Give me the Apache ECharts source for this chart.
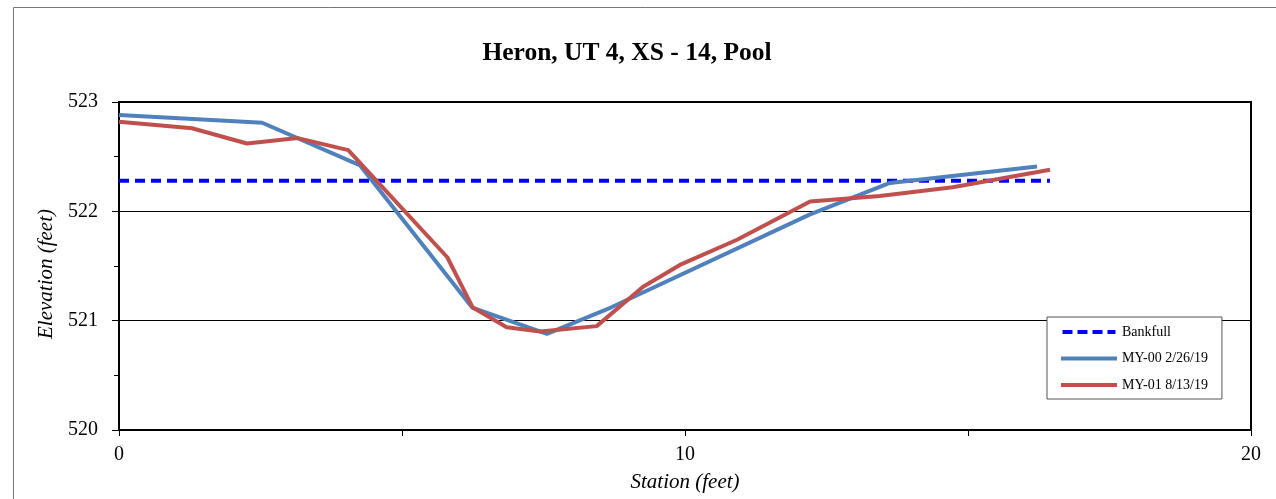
<!DOCTYPE html>
<html>
<head>
<meta charset="utf-8">
<script src="https://cdn.jsdelivr.net/npm/echarts@6/dist/echarts.min.js"></script>
<style>html,body{margin:0;padding:0;background:#fff;}#c{width:1276px;height:499px;}</style>
</head>
<body>
<div id="c"></div>
<script>
const titleText = 'Heron, UT 4, XS - 14, Pool';
const xTicks = [0, 10, 20];
const yTicks = [520, 521, 522, 523];
const bankfullStation = [0, 16.45];
const bankfullElev = [522.28, 522.28];
const my00Station = [0, 2.53, 4.26, 6.24, 7.56, 8.69, 12.2, 13.62, 16.22];
const my00Elev = [522.88, 522.81, 522.42, 521.12, 520.88, 521.12, 521.97, 522.26, 522.41];
const my01Station = [0, 1.29, 2.26, 3.16, 4.05, 5.80, 6.25, 6.85, 7.44, 8.44, 9.26, 9.91, 10.92, 12.21, 13.44, 14.73, 16.45];
const my01Elev = [522.82, 522.76, 522.62, 522.67, 522.56, 521.58, 521.12, 520.94, 520.90, 520.95, 521.31, 521.51, 521.74, 522.09, 522.14, 522.22, 522.38];

const zip = (a, b) => a.map((v, i) => [v, b[i]]);
const serif = '"Liberation Serif", "Times New Roman", serif';
const solidIcon = 'path://M0,0H56V4H0Z';
const dashIcon = 'path://M0,0H10V4H0ZM15,0H25V4H15ZM30,0H40V4H30ZM45,0H53V4H45Z';

const chart = echarts.init(document.getElementById('c'), null, {renderer: 'canvas'});
chart.setOption({
  animation: false,
  backgroundColor: '#fff',
  textStyle: {fontFamily: serif, color: '#000'},
  title: {
    text: titleText, left: 622, top: 35, textAlign: 'center',
    textStyle: {fontFamily: serif, fontSize: 25.5, fontWeight: 'bold', color: '#000'}
  },
  graphic: [{
    type: 'rect', silent: true, z: -1,
    shape: {x: 13.5, y: 7.5, width: 1400, height: 700},
    style: {fill: 'none', stroke: '#777', lineWidth: 1}
  }],
  grid: {left: 119, top: 102, right: 25, bottom: 69, show: true, borderColor: '#000', borderWidth: 2, backgroundColor: 'transparent'},
  legend: {
    orient: 'vertical', left: 1047, top: 317,
    padding: [8, 14, 7, 14], itemGap: 12.5, itemWidth: 56, itemHeight: 4,
    borderColor: '#555', borderWidth: 1, backgroundColor: '#fff',
    textStyle: {fontFamily: serif, fontSize: 14, color: '#000'},
    data: [
      {name: 'Bankfull', icon: dashIcon},
      {name: 'MY-00 2/26/19', icon: solidIcon},
      {name: 'MY-01 8/13/19', icon: solidIcon}
    ]
  },
  xAxis: {
    type: 'value', min: xTicks[0], max: xTicks[xTicks.length - 1], interval: 10,
    name: 'Station (feet)', nameLocation: 'middle', nameGap: 42,
    nameTextStyle: {fontFamily: serif, fontSize: 21, fontStyle: 'italic', color: '#000'},
    axisLine: {lineStyle: {color: '#000', width: 1.5}},
    axisTick: {show: true, inside: false, length: 6, lineStyle: {color: '#000'}},
    minorTick: {show: true, splitNumber: 2, length: 6, lineStyle: {color: '#000'}},
    splitLine: {show: false},
    axisLabel: {fontFamily: serif, fontSize: 20, color: '#000', margin: 15}
  },
  yAxis: {
    type: 'value', min: yTicks[0], max: yTicks[yTicks.length - 1], interval: 1,
    name: 'Elevation (feet)', nameLocation: 'middle', nameGap: 62,
    nameTextStyle: {fontFamily: serif, fontSize: 21, fontStyle: 'italic', color: '#000', padding: [0, 16, 0, 0]},
    axisLine: {show: true, lineStyle: {color: '#000', width: 1.5}},
    axisTick: {show: true, inside: false, length: 7, lineStyle: {color: '#000'}},
    minorTick: {show: true, splitNumber: 2, length: 5, lineStyle: {color: '#000'}},
    splitLine: {show: true, lineStyle: {color: '#000', width: 1}},
    axisLabel: {fontFamily: serif, fontSize: 20, color: '#000', margin: 21}
  },
  series: [
    {
      name: 'Bankfull', type: 'line', symbol: 'none', data: zip(bankfullStation, bankfullElev),
      lineStyle: {color: '#0000FF', width: 4, type: [10, 6]}, itemStyle: {color: '#0000FF'}, z: 3
    },
    {
      name: 'MY-00 2/26/19', type: 'line', symbol: 'none', data: zip(my00Station, my00Elev),
      lineStyle: {color: '#4F81BD', width: 4}, itemStyle: {color: '#4F81BD'}, z: 4
    },
    {
      name: 'MY-01 8/13/19', type: 'line', symbol: 'none', data: zip(my01Station, my01Elev),
      lineStyle: {color: '#C0504D', width: 4}, itemStyle: {color: '#C0504D'}, z: 5
    }
  ]
});
</script>
</body>
</html>
